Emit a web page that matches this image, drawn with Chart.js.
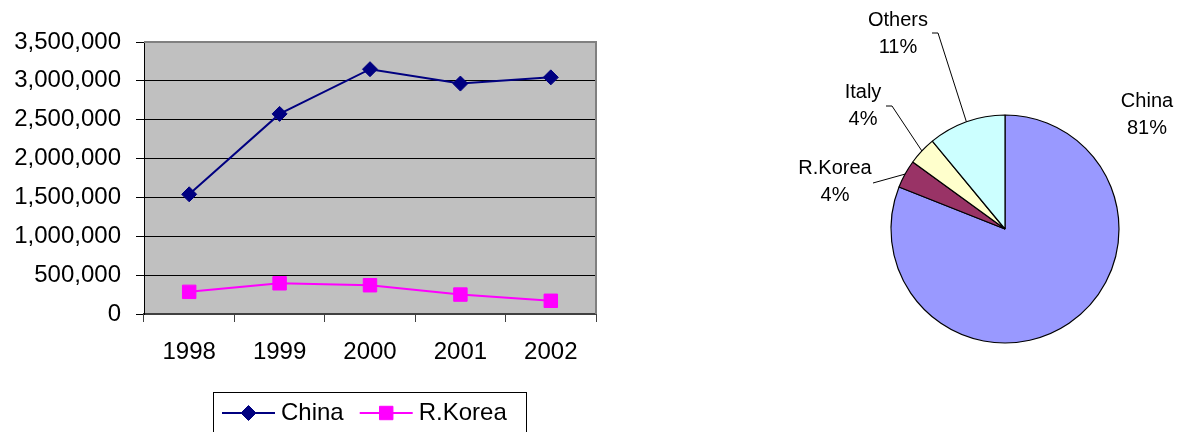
<!DOCTYPE html>
<html>
<head>
<meta charset="utf-8">
<title>Production 1998-2002 and market shares</title>
<script src="https://cdn.jsdelivr.net/npm/chart.js@4.4.1/dist/chart.umd.min.js"></script>
<style>
  html, body { margin: 0; padding: 0; background: #ffffff; }
  body { width: 1182px; height: 432px; position: relative; overflow: hidden; }
  .panel { position: absolute; top: 0; }
  #lineWrap { left: 0; width: 640px; height: 432px; }
  #pieWrap { left: 760px; width: 422px; height: 432px; }
</style>
</head>
<body>
<div id="lineWrap" class="panel"><canvas id="lineChart" width="640" height="432"></canvas></div>
<div id="pieWrap" class="panel"><canvas id="pieChart" width="422" height="432"></canvas></div>
<script>
// Yearly volumes by country
const years = ['1998', '1999', '2000', '2001', '2002'];
const chinaValues = [1540000, 2575000, 3150000, 2965000, 3045000];
const koreaValues = [285000, 395000, 370000, 250000, 170000];

// Value axis range
const yMin = 0;
const yMax = 3500000;
const yStep = 500000;

// Market shares (percent)
const shareLabels = ['China', 'R.Korea', 'Italy', 'Others'];
const shareValues = [81, 4, 4, 11];

const FONT = "'Liberation Sans', Arial, Helvetica, sans-serif";
Chart.defaults.font.family = FONT;
Chart.defaults.color = '#000000';

function drawMarker(ctx, style, radius, x, y, fill, stroke) {
  ctx.save();
  ctx.fillStyle = fill;
  ctx.strokeStyle = stroke;
  ctx.lineWidth = 1;
  if (Chart.helpers && Chart.helpers.drawPoint) {
    Chart.helpers.drawPoint(ctx, { pointStyle: style, radius: radius, rotation: 0, borderWidth: 1 }, x, y);
  }
  ctx.restore();
}

// Grey plot area with a light frame on the top and right
const plotFrame = {
  id: 'plotFrame',
  beforeDraw(chart) {
    const a = chart.chartArea;
    const ctx = chart.ctx;
    ctx.save();
    ctx.fillStyle = '#C0C0C0';
    ctx.fillRect(a.left, a.top, a.right - a.left, a.bottom - a.top);
    ctx.restore();
  },
  beforeDatasetsDraw(chart) {
    const a = chart.chartArea;
    const ctx = chart.ctx;
    ctx.save();
    ctx.strokeStyle = '#808080';
    ctx.lineWidth = 2;
    ctx.beginPath();
    ctx.moveTo(a.left, a.top);
    ctx.lineTo(a.right, a.top);
    ctx.lineTo(a.right, a.bottom);
    ctx.stroke();
    ctx.restore();
  }
};

// Boxed legend under the line chart: line sample with marker, then label
const boxLegend = {
  id: 'boxLegend',
  afterDraw(chart, args, opts) {
    const ctx = chart.ctx;
    ctx.save();
    ctx.strokeStyle = '#000000';
    ctx.lineWidth = 1;
    ctx.strokeRect(opts.x + 0.5, opts.y + 0.5, opts.width, opts.height);
    ctx.font = '24px ' + FONT;
    ctx.textBaseline = 'middle';
    ctx.textAlign = 'left';
    const cy = opts.y + opts.rowOffset;
    let x = opts.x + opts.startPad;
    chart.data.datasets.forEach(ds => {
      ctx.strokeStyle = ds.borderColor;
      ctx.lineWidth = ds.borderWidth;
      ctx.beginPath();
      ctx.moveTo(x, cy);
      ctx.lineTo(x + opts.sampleWidth, cy);
      ctx.stroke();
      drawMarker(ctx, ds.pointStyle, ds.pointRadius, x + opts.sampleWidth / 2, cy, ds.pointBackgroundColor, ds.pointBorderColor);
      ctx.fillStyle = '#000000';
      ctx.fillText(ds.label, x + opts.sampleWidth + opts.textGap, cy);
      x += opts.sampleWidth + opts.textGap + ctx.measureText(ds.label).width + opts.itemGap;
    });
    ctx.restore();
  }
};

new Chart(document.getElementById('lineChart'), {
  type: 'line',
  data: {
    labels: years,
    datasets: [
      {
        label: 'China',
        data: chinaValues,
        borderColor: '#000080',
        backgroundColor: '#000080',
        borderWidth: 2,
        pointStyle: 'rectRot',
        pointRadius: 7.5,
        pointBackgroundColor: '#000080',
        pointBorderColor: '#000080',
        pointBorderWidth: 1,
        tension: 0,
        fill: false
      },
      {
        label: 'R.Korea',
        data: koreaValues,
        borderColor: '#FF00FF',
        backgroundColor: '#FF00FF',
        borderWidth: 2,
        pointStyle: 'rect',
        pointRadius: 9.5,
        pointBackgroundColor: '#FF00FF',
        pointBorderColor: '#FF00FF',
        pointBorderWidth: 1,
        tension: 0,
        fill: false
      }
    ]
  },
  options: {
    responsive: false,
    animation: false,
    devicePixelRatio: 1,
    layout: { padding: { top: 42, right: 44, left: 0, bottom: 0 } },
    plugins: {
      legend: { display: false },
      tooltip: { enabled: false },
      boxLegend: { x: 213, y: 392, width: 313, height: 60, rowOffset: 21, startPad: 9, sampleWidth: 53, textGap: 6, itemGap: 16 }
    },
    scales: {
      x: {
        type: 'category',
        offset: true,
        afterFit(scale) { scale.height = 118; },
        grid: { drawOnChartArea: false, drawTicks: true, tickLength: 8, offset: true, color: '#404040', lineWidth: 1 },
        border: { display: true, color: '#404040', width: 2 },
        ticks: { font: { size: 24 }, color: '#000000', padding: 16, maxRotation: 0, autoSkip: false }
      },
      y: {
        min: yMin,
        max: yMax,
        afterFit(scale) { scale.width = 144; },
        grid: {
          color: ctx => (ctx.tick && ctx.tick.value === yMax ? '#808080' : '#000000'),
          lineWidth: 1,
          drawTicks: true,
          tickLength: 8,
          tickColor: '#000000'
        },
        border: { display: true, color: '#000000', width: 1 },
        ticks: {
          stepSize: yStep,
          font: { size: 24 },
          color: '#000000',
          padding: 15,
          autoSkip: false,
          callback: v => Number(v).toLocaleString('en-US')
        }
      }
    }
  },
  plugins: [plotFrame, boxLegend]
});

// Outside labels with leader lines for the pie
const pieCallouts = {
  id: 'pieCallouts',
  afterDraw(chart, args, opts) {
    const ctx = chart.ctx;
    const meta = chart.getDatasetMeta(0);
    const values = chart.data.datasets[0].data;
    const total = values.reduce((s, v) => s + v, 0);
    ctx.save();
    ctx.font = opts.fontSize + 'px ' + FONT;
    ctx.textAlign = 'center';
    ctx.textBaseline = 'middle';
    meta.data.forEach((arc, i) => {
      const p = arc.getProps(['x', 'y', 'startAngle', 'endAngle', 'outerRadius'], true);
      const place = opts.places[i];
      const mid = (p.startAngle + p.endAngle) / 2;
      const ax = p.x + Math.cos(mid) * p.outerRadius;
      const ay = p.y + Math.sin(mid) * p.outerRadius;
      if (place.leader) {
        ctx.strokeStyle = '#000000';
        ctx.lineWidth = 1;
        ctx.beginPath();
        ctx.moveTo(p.x + place.leader[0][0], p.y + place.leader[0][1]);
        for (let k = 1; k < place.leader.length; k++) {
          ctx.lineTo(p.x + place.leader[k][0], p.y + place.leader[k][1]);
        }
        ctx.lineTo(ax, ay);
        ctx.stroke();
      }
      ctx.fillStyle = '#000000';
      const pct = Math.round(values[i] / total * 100) + '%';
      ctx.fillText(chart.data.labels[i], p.x + place.dx, p.y + place.dy);
      ctx.fillText(pct, p.x + place.dx, p.y + place.dy + opts.lineGap);
    });
    ctx.restore();
  }
};

new Chart(document.getElementById('pieChart'), {
  type: 'pie',
  data: {
    labels: shareLabels,
    datasets: [{
      data: shareValues,
      backgroundColor: ['#9999FF', '#993366', '#FFFFCC', '#CCFFFF'],
      borderColor: '#000000',
      borderWidth: 1.2,
      hoverOffset: 0
    }]
  },
  options: {
    responsive: false,
    animation: false,
    devicePixelRatio: 1,
    radius: 114,
    layout: { padding: { left: 68, right: 0, top: 26, bottom: 0 } },
    plugins: {
      legend: { display: false },
      tooltip: { enabled: false },
      pieCallouts: {
        fontSize: 20,
        lineGap: 27,
        places: [
          { dx: 142, dy: -128 },
          { dx: -170, dy: -61, leader: [[-132, -46]] },
          { dx: -142, dy: -137, leader: [[-119, -123], [-113, -123]] },
          { dx: -107, dy: -209, leader: [[-73, -196], [-67, -196]] }
        ]
      }
    }
  },
  plugins: [pieCallouts]
});
</script>
</body>
</html>
